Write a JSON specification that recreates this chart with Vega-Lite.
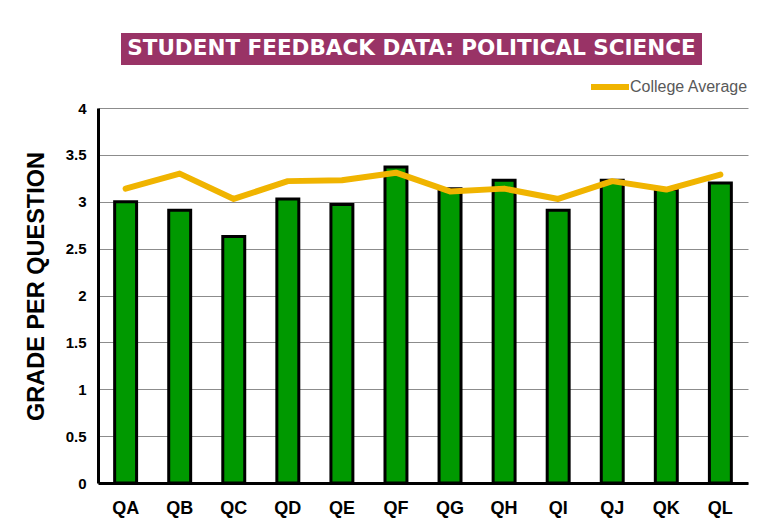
{
  "$schema": "https://vega.github.io/schema/vega-lite/v6.json",
  "background": "white",
  "padding": {"left": 24, "top": 33, "right": 5, "bottom": 5},
  "config": {
    "view": {"stroke": null},
    "font": "Liberation Sans"
  },
  "spacing": 0,
  "resolve": {"legend": {"color": "independent"}},
  "vconcat": [
    {
      "spacing": 0,
      "hconcat": [
        {
          "width": 23,
          "height": 32,
          "data": {"values": [{"t": ""}]},
          "mark": {"type": "text"},
          "encoding": {"text": {"field": "t"}}
        },
        {
          "width": 581,
          "height": 32,
          "view": {"fill": "#993366", "stroke": null},
          "data": {"values": [{"t": "STUDENT FEEDBACK DATA: POLITICAL SCIENCE"}]},
          "mark": {"type": "text", "color": "white", "font": "DejaVu Sans", "fontWeight": "bold", "fontSize": 21.5, "baseline": "middle", "align": "center"},
          "encoding": {"text": {"field": "t"}}
        }
      ]
    },
    {
      "width": 650,
      "height": 375,
      "data": {"values": [
        {"q": "QA", "grade": 3.00, "avg": 3.14, "series": "College Average"},
        {"q": "QB", "grade": 2.91, "avg": 3.30, "series": "College Average"},
        {"q": "QC", "grade": 2.63, "avg": 3.03, "series": "College Average"},
        {"q": "QD", "grade": 3.03, "avg": 3.22, "series": "College Average"},
        {"q": "QE", "grade": 2.97, "avg": 3.23, "series": "College Average"},
        {"q": "QF", "grade": 3.37, "avg": 3.31, "series": "College Average"},
        {"q": "QG", "grade": 3.14, "avg": 3.11, "series": "College Average"},
        {"q": "QH", "grade": 3.23, "avg": 3.14, "series": "College Average"},
        {"q": "QI", "grade": 2.91, "avg": 3.03, "series": "College Average"},
        {"q": "QJ", "grade": 3.23, "avg": 3.22, "series": "College Average"},
        {"q": "QK", "grade": 3.13, "avg": 3.13, "series": "College Average"},
        {"q": "QL", "grade": 3.20, "avg": 3.29, "series": "College Average"}
      ]},
      "encoding": {
        "x": {
          "field": "q", "type": "nominal", "sort": null,
          "scale": {"paddingInner": 0.594, "paddingOuter": 0.308},
          "axis": {
            "title": null, "labelAngle": 0, "ticks": false, "tickSize": 0,
            "domainColor": "black", "domainWidth": 3,
            "labelFont": "Liberation Sans", "labelFontWeight": "bold", "labelFontSize": 18,
            "labelColor": "black", "labelPadding": 16
          }
        }
      },
      "layer": [
        {
          "mark": {"type": "bar", "fill": "#009900", "stroke": "black", "strokeWidth": 3},
          "encoding": {
            "y": {
              "field": "grade", "type": "quantitative",
              "scale": {"domain": [0, 4], "nice": false},
              "axis": {
                "title": "GRADE PER QUESTION",
                "values": [0, 0.5, 1, 1.5, 2, 2.5, 3, 3.5, 4],
                "format": ".1~f",
                "ticks": false, "tickSize": 0,
                "domainColor": "black", "domainWidth": 3,
                "gridColor": "#8c8c8c", "gridWidth": 1,
                "labelFont": "Liberation Sans", "labelFontWeight": "bold", "labelFontSize": 15,
                "labelColor": "black", "labelPadding": 12,
                "titleFont": "Liberation Sans", "titleFontWeight": "bold", "titleFontSize": 23.5,
                "titleColor": "black", "titlePadding": 17, "titleY": 178
              }
            }
          }
        },
        {
          "mark": {"type": "line", "strokeWidth": 6, "strokeCap": "round", "strokeJoin": "round"},
          "encoding": {
            "y": {"field": "avg", "type": "quantitative"},
            "color": {
              "field": "series", "type": "nominal",
              "scale": {"range": ["#F0B400"]},
              "legend": {
                "title": null, "orient": "none", "legendX": 490, "legendY": -43,
                "symbolType": "stroke", "symbolStrokeWidth": 6, "symbolSize": 1444,
                "labelFont": "Liberation Sans", "labelFontSize": 16, "labelColor": "#595959",
                "labelOffset": -2, "padding": 0
              }
            }
          }
        }
      ]
    }
  ]
}
